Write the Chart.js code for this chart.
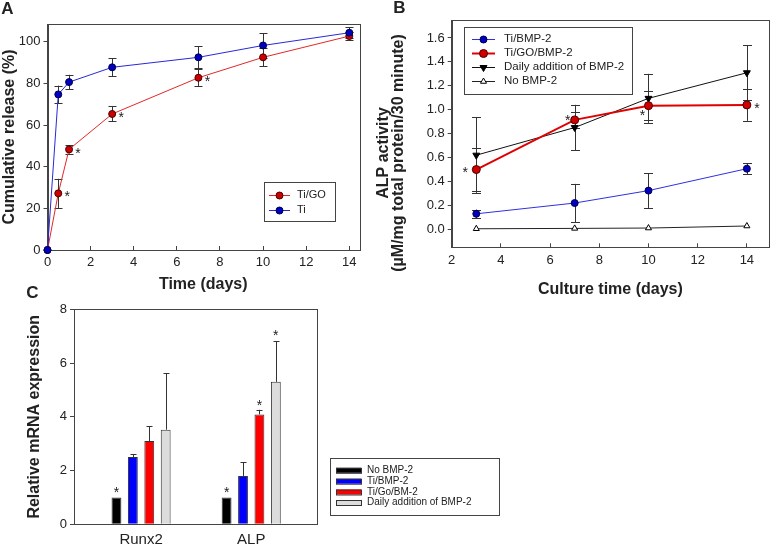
<!DOCTYPE html>
<html>
<head>
<meta charset="utf-8">
<script src="https://cdn.jsdelivr.net/npm/chart.js@4.4.0/dist/chart.umd.min.js"></script>
<style>
  body { margin: 0; background: #fff; }
  #wrap { position: relative; width: 774px; height: 547px; overflow: hidden; background: #fff; }
  canvas { position: absolute; }
</style>
</head>
<body>
<div id="wrap">
  <canvas id="chartA" width="385" height="295" style="left:0;top:0"></canvas>
  <canvas id="chartB" width="404" height="305" style="left:370px;top:0"></canvas>
  <canvas id="chartC" width="520" height="267" style="left:0;top:280px"></canvas>
</div>
<script>
const FONT = "'Liberation Sans', Arial, sans-serif";
const INK = '#222';
const AXIS = '#444';

// A - cumulative BMP-2 release
const daysA = [0, 0.5, 1, 3, 7, 10, 14];
const releaseTiGO = [0, 27.2, 48.3, 65.3, 82.7, 92.5, 102.7];
const errTiGO = [0, 7, 2, 3.6, 4.2, 4.4, 1.8];
const releaseTi = [0, 74.7, 80.6, 87.7, 92.5, 98.2, 104.3];
const errTi = [0, 4.2, 3.5, 4.4, 5.2, 5.8, 2.7];

// B - ALP activity
const daysB = [3, 7, 10, 14];
const alpTiBMP = [0.13, 0.22, 0.324, 0.507];
const errTiBMP = [0.035, 0.16, 0.145, 0.047];
const alpTiGOBMP = [0.50, 0.915, 1.034, 1.04];
const errTiGOBMP = [0.18, 0.065, 0.12, 0.133];
const alpDaily = [0.62, 0.851, 1.095, 1.309];
const errDaily = [0.315, 0.19, 0.205, 0.23];
const alpNoBMP = [0.005, 0.008, 0.011, 0.028];

// C - relative mRNA expression
const genes = ['Runx2', 'ALP'];
const mrnaNoBMP = [1.0, 1.0];
const mrnaTiBMP = [2.5, 1.8];
const errMrnaTiBMP = [0.11, 0.51];
const mrnaTiGo = [3.1, 4.09];
const errMrnaTiGo = [0.55, 0.17];
const mrnaDaily = [3.52, 5.3];
const errMrnaDaily = [2.1, 1.52];

const pointsOf = (xs, ys) => xs.map((x, i) => ({ x: x, y: ys[i] }));

// box round the plot area
const frame = {
  id: 'frame',
  beforeDatasetsDraw(chart) {
    const a = chart.chartArea, ctx = chart.ctx;
    ctx.save();
    ctx.strokeStyle = AXIS;
    ctx.lineWidth = 1;
    ctx.strokeRect(Math.round(a.left) + 0.5, Math.round(a.top) + 0.5,
      Math.round(a.right - a.left), Math.round(a.bottom - a.top));
    ctx.restore();
  }
};

// vertical error bars, read from dataset.errors
const errorBars = {
  id: 'errorBars',
  beforeDatasetsDraw(chart, args, opts) {
    const ctx = chart.ctx, ys = chart.scales.y;
    const cap = opts.cap || 4;
    ctx.save();
    ctx.strokeStyle = '#333';
    ctx.lineWidth = 1;
    chart.data.datasets.forEach((ds, di) => {
      if (!ds.errors) return;
      const meta = chart.getDatasetMeta(di);
      meta.data.forEach((el, i) => {
        const err = ds.errors[i];
        if (!err) return;
        const v = ds.data[i].y;
        const x = Math.round(el.x) + 0.5;
        const hi = ys.getPixelForValue(v + err);
        const lo = opts.upOnly ? el.y : ys.getPixelForValue(v - err);
        ctx.beginPath();
        ctx.moveTo(x, lo); ctx.lineTo(x, hi);
        ctx.moveTo(x - cap, Math.round(hi) + 0.5); ctx.lineTo(x + cap, Math.round(hi) + 0.5);
        if (!opts.upOnly) {
          ctx.moveTo(x - cap, Math.round(lo) + 0.5); ctx.lineTo(x + cap, Math.round(lo) + 0.5);
        }
        ctx.stroke();
      });
    });
    ctx.restore();
  }
};

// significance asterisks next to points / above bars
const stars = {
  id: 'stars',
  afterDatasetsDraw(chart, args, opts) {
    if (!opts.list) return;
    const ctx = chart.ctx, ys = chart.scales.y;
    ctx.save();
    ctx.fillStyle = INK;
    ctx.font = '14px ' + FONT;
    ctx.textAlign = 'center';
    ctx.textBaseline = 'middle';
    opts.list.forEach(s => {
      const ds = chart.data.datasets[s.ds];
      const el = chart.getDatasetMeta(s.ds).data[s.i];
      let y = el.y;
      if (s.above) y = ys.getPixelForValue(ds.data[s.i].y + ((ds.errors && ds.errors[s.i]) || 0));
      ctx.fillText('*', el.x + (s.dx || 0), y + (s.dy || 0) + 3);
    });
    ctx.restore();
  }
};

// legend in a framed box at a fixed place
const boxLegend = {
  id: 'boxLegend',
  afterDraw(chart, args, o) {
    if (!o.box) return;
    const ctx = chart.ctx;
    const [bx, by, bw, bh] = o.box;
    ctx.save();
    ctx.fillStyle = '#fff';
    ctx.fillRect(bx, by, bw, bh);
    ctx.strokeStyle = AXIS;
    ctx.lineWidth = 1;
    ctx.strokeRect(bx + 0.5, by + 0.5, bw, bh);
    ctx.font = o.font;
    ctx.textBaseline = 'middle';
    ctx.textAlign = 'left';
    chart.data.datasets.forEach((ds, i) => {
      const y = o.rows[i];
      if (o.swatch) {
        const [x0, x1, h] = o.swatch;
        ctx.fillStyle = ds.backgroundColor;
        ctx.fillRect(x0, y - h / 2, x1 - x0, h);
        ctx.strokeStyle = ds.borderColor;
        ctx.strokeRect(x0 + 0.5, y - h / 2 + 0.5, x1 - x0, h);
      } else {
        const [x0, x1] = o.line;
        ctx.strokeStyle = ds.borderColor;
        ctx.lineWidth = ds.borderWidth;
        ctx.beginPath();
        ctx.moveTo(x0, Math.round(y) + 0.5); ctx.lineTo(x1, Math.round(y) + 0.5);
        ctx.stroke();
        ctx.fillStyle = ds.pointBackgroundColor;
        ctx.strokeStyle = ds.pointBorderColor;
        ctx.lineWidth = ds.pointBorderWidth;
        Chart.helpers.drawPoint(ctx, {
          pointStyle: ds.pointStyle, radius: ds.pointRadius,
          rotation: ds.pointRotation || 0, borderWidth: ds.pointBorderWidth
        }, (x0 + x1) / 2, Math.round(y) + 0.5);
      }
      ctx.fillStyle = INK;
      ctx.fillText(ds.label, o.textX, y);
    });
    ctx.restore();
  }
};

// free text: panel letters, odd titles
const notes = {
  id: 'notes',
  afterDraw(chart, args, opts) {
    if (!opts.list) return;
    const ctx = chart.ctx;
    opts.list.forEach(n => {
      ctx.save();
      ctx.translate(n.x, n.y);
      ctx.rotate((n.rot || 0) * Math.PI / 180);
      ctx.font = n.font;
      ctx.fillStyle = INK;
      ctx.textAlign = 'center';
      ctx.textBaseline = 'middle';
      ctx.fillText(n.text, 0, 0);
      ctx.restore();
    });
  }
};

Chart.register(frame, errorBars, stars, boxLegend, notes);

const tickFont = { family: FONT, size: 13 };
const titleFont = { family: FONT, size: 16, weight: 'bold', lineHeight: 1.2 };
const base = { responsive: false, animation: false, events: [] };

// ---------- A ----------
new Chart(document.getElementById('chartA'), {
  type: 'line',
  data: {
    datasets: [
      {
        label: 'Ti/GO', data: pointsOf(daysA, releaseTiGO), errors: errTiGO,
        borderColor: '#e02828', borderWidth: 1, order: 1,
        pointStyle: 'circle', pointRadius: 3.5, pointBackgroundColor: '#cc0000',
        pointBorderColor: '#4a0000', pointBorderWidth: 1, clip: false
      },
      {
        label: 'Ti', data: pointsOf(daysA, releaseTi), errors: errTi,
        borderColor: '#2828d8', borderWidth: 1, order: 0,
        pointStyle: 'circle', pointRadius: 3.5, pointBackgroundColor: '#0000c0',
        pointBorderColor: '#00004a', pointBorderWidth: 1, clip: false
      }
    ]
  },
  options: Object.assign({}, base, {
    layout: { padding: { left: 0, top: 24, right: 26, bottom: 0 } },
    scales: {
      x: {
        type: 'linear', min: 0, max: 14.45,
        ticks: { stepSize: 2, includeBounds: false, font: tickFont, color: INK, padding: 9, maxRotation: 0 },
        grid: { drawOnChartArea: false, tickLength: -4, color: AXIS },
        border: { color: AXIS },
        title: { display: true, text: 'Time (days)', font: titleFont, color: INK, padding: { top: 0, bottom: 1 } },
        afterFit: s => { s.height = 45; }
      },
      y: {
        min: 0, max: 108.5,
        ticks: { stepSize: 20, includeBounds: false, font: tickFont, color: INK, padding: 3 },
        grid: { drawOnChartArea: false, tickLength: 4, color: AXIS },
        border: { color: AXIS },
        title: { display: true, text: 'Cumulative release (%)', font: titleFont, color: INK, padding: 0 },
        afterFit: s => { s.width = 47.5; }
      }
    },
    plugins: {
      legend: { display: false }, tooltip: { enabled: false },
      errorBars: { cap: 4 },
      stars: { list: [
        { ds: 0, i: 1, dx: 9, dy: 1 }, { ds: 0, i: 2, dx: 9, dy: 2 },
        { ds: 0, i: 3, dx: 9, dy: 1 }, { ds: 0, i: 4, dx: 9, dy: 1 }
      ] },
      boxLegend: { box: [264, 182, 71, 39], rows: [194.5, 210], line: [269, 290], textX: 297, font: '11px ' + FONT },
      notes: { list: [{ text: 'A', x: 7.5, y: 9, font: 'bold 17px ' + FONT }] }
    }
  })
});

// ---------- B ----------
new Chart(document.getElementById('chartB'), {
  type: 'line',
  data: {
    datasets: [
      {
        label: 'Ti/BMP-2', data: pointsOf(daysB, alpTiBMP), errors: errTiBMP,
        borderColor: '#3030e0', borderWidth: 1,
        pointStyle: 'circle', pointRadius: 3.5, pointBackgroundColor: '#0000c0',
        pointBorderColor: '#00004a', pointBorderWidth: 1
      },
      {
        label: 'Ti/GO/BMP-2', data: pointsOf(daysB, alpTiGOBMP), errors: errTiGOBMP,
        borderColor: '#e00000', borderWidth: 2,
        pointStyle: 'circle', pointRadius: 4, pointBackgroundColor: '#d00000',
        pointBorderColor: '#4a0000', pointBorderWidth: 1
      },
      {
        label: 'Daily addition of BMP-2', data: pointsOf(daysB, alpDaily), errors: errDaily,
        borderColor: '#111', borderWidth: 1,
        pointStyle: 'triangle', pointRotation: 180, pointRadius: 4,
        pointBackgroundColor: '#000', pointBorderColor: '#000', pointBorderWidth: 1
      },
      {
        label: 'No BMP-2', data: pointsOf(daysB, alpNoBMP),
        borderColor: '#222', borderWidth: 1,
        pointStyle: 'triangle', pointRadius: 3.5,
        pointBackgroundColor: '#fff', pointBorderColor: '#000', pointBorderWidth: 1
      }
    ]
  },
  options: Object.assign({}, base, {
    layout: { padding: { left: 0, top: 20, right: 2.3, bottom: 0 } },
    scales: {
      x: {
        type: 'linear', min: 2, max: 14.9,
        ticks: { stepSize: 2, includeBounds: false, font: tickFont, color: INK, padding: 9, maxRotation: 0 },
        grid: { drawOnChartArea: false, tickLength: -4, color: AXIS },
        border: { color: AXIS },
        title: { display: true, text: 'Culture time (days)', font: titleFont, color: INK, padding: { top: 0, bottom: 5.4 } },
        afterFit: s => { s.height = 57.7; }
      },
      y: {
        min: -0.15, max: 1.75,
        ticks: { stepSize: 0.2, includeBounds: false, font: tickFont, color: INK, padding: 3, callback: v => v.toFixed(1) },
        grid: { drawOnChartArea: false, tickLength: 4, color: AXIS },
        border: { color: AXIS },
        afterFit: s => { s.width = 81.7; }
      }
    },
    plugins: {
      legend: { display: false }, tooltip: { enabled: false },
      errorBars: { cap: 4.5 },
      stars: { list: [
        { ds: 1, i: 0, dx: -11, dy: 1 }, { ds: 1, i: 1, dx: -7, dy: -2 },
        { ds: 1, i: 2, dx: -6, dy: 7 }, { ds: 1, i: 3, dx: 10, dy: 1 }
      ] },
      boxLegend: { box: [94, 27, 168, 67], rows: [39, 53, 67, 81], line: [102, 125], textX: 134, font: '11.5px ' + FONT },
      notes: { list: [
        { text: 'B', x: 29.5, y: 8, font: 'bold 17px ' + FONT },
        { text: 'ALP activity', x: 14, y: 153, rot: -90, font: 'bold 16px ' + FONT },
        { text: '(\u00b5M/mg total protein/30 minute)', x: 28.5, y: 153, rot: -90, font: 'bold 16px ' + FONT }
      ] }
    }
  })
});

// ---------- C ----------
const barStyle = { borderColor: '#333', borderWidth: 1, categoryPercentage: 0.596, barPercentage: 0.6 };
new Chart(document.getElementById('chartC'), {
  type: 'bar',
  data: {
    datasets: [
      Object.assign({ label: 'No BMP-2', data: pointsOf([0, 1], mrnaNoBMP), backgroundColor: '#000' }, barStyle),
      Object.assign({ label: 'Ti/BMP-2', data: pointsOf([0, 1], mrnaTiBMP), errors: errMrnaTiBMP, backgroundColor: '#0000ff' }, barStyle),
      Object.assign({ label: 'Ti/Go/BM-2', data: pointsOf([0, 1], mrnaTiGo), errors: errMrnaTiGo, backgroundColor: '#ff0000' }, barStyle),
      Object.assign({ label: 'Daily addition of BMP-2', data: pointsOf([0, 1], mrnaDaily), errors: errMrnaDaily, backgroundColor: '#dcdcdc' }, barStyle)
    ]
  },
  options: Object.assign({}, base, {
    layout: { padding: { left: 0, top: 29.3, right: 202.7, bottom: 0 } },
    scales: {
      x: {
        type: 'linear', min: -0.609, max: 1.6, offset: false,
        afterBuildTicks: s => { s.ticks = [{ value: 0 }, { value: 1 }]; },
        ticks: { font: { family: FONT, size: 15 }, color: INK, padding: 7, maxRotation: 0, callback: v => genes[v] },
        grid: { display: false, offset: false, tickLength: 0 },
        border: { color: AXIS },
        afterFit: s => { s.height = 22.7; }
      },
      y: {
        min: 0, max: 8,
        ticks: { stepSize: 2, font: tickFont, color: INK, padding: 3 },
        grid: { drawOnChartArea: false, tickLength: 4, color: AXIS },
        border: { color: AXIS },
        title: { display: true, text: 'Relative mRNA expression', font: titleFont, color: INK, padding: { top: 25.4, bottom: 0 } },
        afterFit: s => { s.width = 74; }
      }
    },
    plugins: {
      legend: { display: false }, tooltip: { enabled: false },
      errorBars: { cap: 3, upOnly: true },
      stars: { list: [
        { ds: 0, i: 0, above: true, dy: -7 }, { ds: 0, i: 1, above: true, dy: -7 },
        { ds: 2, i: 1, above: true, dy: -7 }, { ds: 3, i: 1, above: true, dy: -8 }
      ] },
      boxLegend: { box: [330, 178, 169, 57], rows: [190.3, 201.2, 212, 222.5], swatch: [336, 361, 5], textX: 367, font: '10px ' + FONT },
      notes: { list: [{ text: 'C', x: 32.5, y: 13.5, font: 'bold 17px ' + FONT }] }
    }
  })
});
</script>
</body>
</html>
